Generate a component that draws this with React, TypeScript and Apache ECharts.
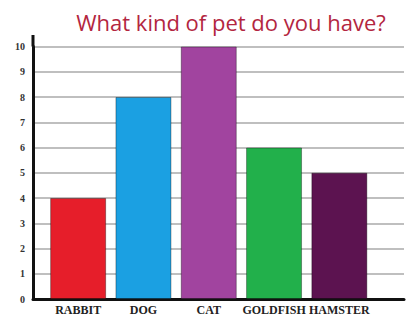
import React, { useEffect, useRef } from "react";
import * as echarts from "echarts";

const categories = ["RABBIT", "DOG", "CAT", "GOLDFISH", "HAMSTER"];
const values = [4, 8, 10, 6, 5];
const barColors = ["#e61e2a", "#1ba0e2", "#a1449f", "#22b04b", "#5c1350"];
const titleText = "What kind of pet do you have?";

export default function App() {
  const ref = useRef<HTMLDivElement>(null);
  useEffect(() => {
    if (!ref.current) return;
    const chart = echarts.init(ref.current, null, { renderer: "svg" });
    const top = 46.5;
    const bottom = 27;
    chart.setOption({
      animation: false,
      backgroundColor: "#ffffff",
      grid: [
        { left: 33, right: 11, top, bottom, containLabel: false },
        { left: 45.5, right: 43, top, bottom, containLabel: false },
      ],
      xAxis: [
        {
          gridIndex: 0,
          type: "category",
          data: categories,
          axisLine: { show: true, lineStyle: { color: "#111", width: 3 } },
          axisTick: { show: false },
          axisLabel: { show: false },
        },
        {
          gridIndex: 1,
          type: "category",
          data: categories,
          axisLine: { show: false },
          axisTick: { show: false },
          axisLabel: {
            interval: 0,
            hideOverlap: false,
            margin: 5,
            fontFamily: "Liberation Serif",
            fontWeight: "bold",
            fontSize: 12,
            color: "#222",
          },
        },
      ],
      yAxis: [
        {
          gridIndex: 0,
          type: "value",
          min: 0,
          max: 10,
          interval: 1,
          axisLine: { show: true, lineStyle: { color: "#111", width: 3 } },
          axisTick: { show: false },
          axisLabel: {
            margin: 8,
            fontFamily: "Liberation Serif",
            fontWeight: "bold",
            fontSize: 10,
            color: "#333",
          },
          splitLine: { show: true, lineStyle: { color: "#aaaaaa", width: 1.5 } },
        },
        {
          gridIndex: 1,
          type: "value",
          min: 0,
          max: 10,
          interval: 1,
          show: false,
          splitLine: { show: false },
        },
      ],
      graphic: [
        {
          type: "line",
          shape: { x1: 33, y1: 35, x2: 33, y2: top },
          style: { stroke: "#111", lineWidth: 3 },
        },
        {
          type: "text",
          x: 231,
          y: 22,
          style: {
            text: titleText,
            fontFamily: "Open Sans",
            fontSize: 22,
            fill: "#b3263f",
            textAlign: "center",
            textVerticalAlign: "middle",
          },
        },
      ],
      series: [
        {
          type: "bar",
          xAxisIndex: 1,
          yAxisIndex: 1,
          barWidth: 56,
          data: values.map((v, i) => ({
            value: v,
            itemStyle: { color: barColors[i], borderColor: "rgba(0,0,0,0.35)", borderWidth: 1 },
          })),
          z: 3,
        },
      ],
    });
    return () => chart.dispose();
  }, []);
  return <div ref={ref} style={{ width: 415, height: 326, position: "absolute", left: 0, top: 0 }} />;
}
